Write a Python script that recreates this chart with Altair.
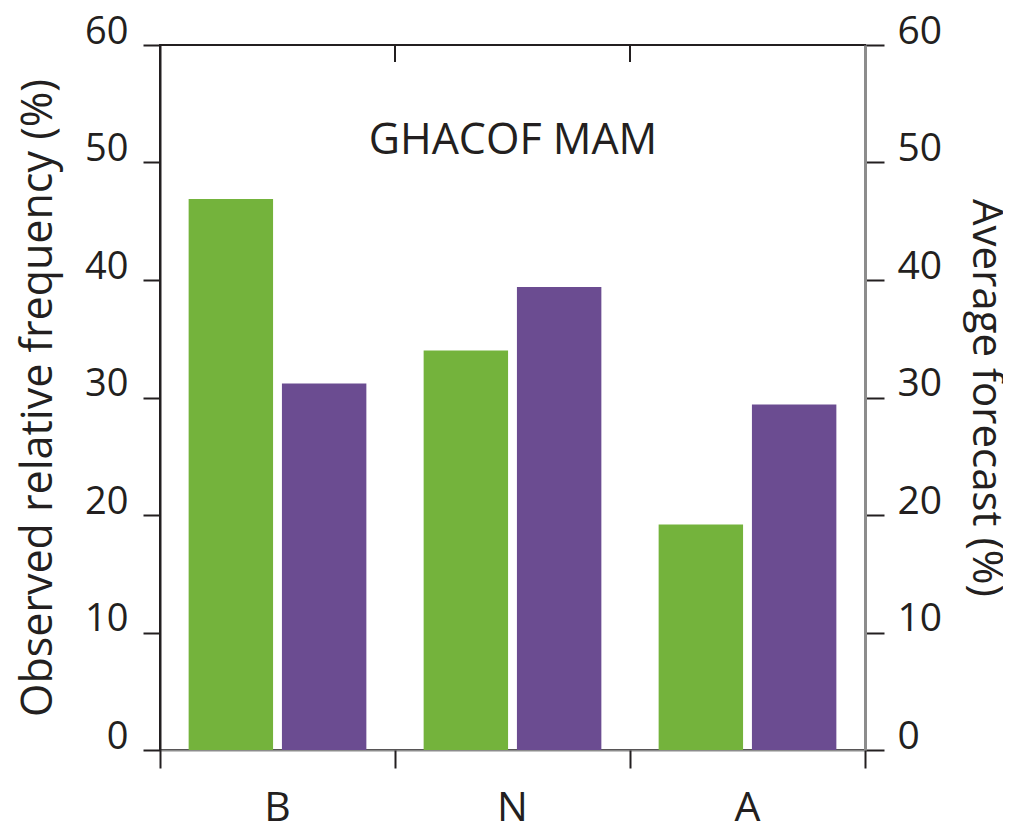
import altair as alt
import pandas as pd

categories = ["B", "N", "A"]
observed = [46.9, 34.0, 19.2]
forecast = [31.2, 39.4, 29.4]
series = ["Observed", "Forecast"]
colors = ["#74b33c", "#6b4c91"]
y_ticks = [0, 10, 20, 30, 40, 50, 60]
boundaries = [0, 1, 2, 3]
top_ticks = [1, 2]
title_text = ["GHACOF MAM"]
left_title = "Observed relative frequency (%)"
right_title = "Average forecast (%)"

rows = []
for c, o, f in zip(categories, observed, forecast):
    rows.append({"cat": c, "series": series[0], "value": o})
    rows.append({"cat": c, "series": series[1], "value": f})
df = pd.DataFrame(rows)

FONT = "Open Sans"
TXT = "#231f20"
GRAY = "#8c8c8c"

yscale = alt.Scale(domain=[0, 60], nice=False)

bars = alt.Chart(df).mark_bar().encode(
    x=alt.X("cat:N", sort=categories,
            scale=alt.Scale(paddingInner=0, paddingOuter=0),
            axis=alt.Axis(title=None, ticks=False, domain=True, domainColor=GRAY,
                          domainWidth=2, labelAngle=0, labelFontSize=41,
                          labelPadding=38, labelColor=TXT, labelFont=FONT, grid=False)),
    xOffset=alt.XOffset("series:N", sort=series,
                        scale=alt.Scale(paddingInner=0.095, paddingOuter=0.307)),
    y=alt.Y("value:Q", scale=yscale,
            axis=alt.Axis(orient="left", values=y_ticks, tickSize=17, tickWidth=2,
                          tickColor=TXT, domainColor=TXT, domainWidth=2,
                          labelFontSize=38, labelPadding=15, labelFont=FONT,
                          labelColor=TXT, labelBaseline="alphabetic", labelFlush=False,
                          labelOffset=-2,
                          title=left_title, titleFontSize=43,
                          titleFont=FONT, titleFontWeight="normal", titleColor=TXT,
                          titlePadding=24, grid=False)),
    color=alt.Color("series:N", scale=alt.Scale(domain=series, range=colors), legend=None),
)

rules = alt.Chart(pd.DataFrame({"pos": top_ticks})).mark_rule(
    color=TXT, strokeWidth=2
).encode(
    x=alt.X("pos:Q", scale=alt.Scale(domain=[0, 3], nice=False),
            axis=alt.Axis(orient="bottom", values=boundaries, labels=False, domain=False,
                          tickSize=18, tickWidth=2, tickColor=TXT, title=None, grid=False)),
    y=alt.value(0),
    y2=alt.value(17),
)

title = alt.Chart(pd.DataFrame({"t": title_text})).mark_text(
    font=FONT, fontSize=43, color=TXT, align="center", baseline="middle"
).encode(
    x=alt.value(353),
    y=alt.value(96),
    text="t:N",
)

right = alt.Chart(df).mark_bar(opacity=0).encode(
    x=alt.X("cat:N", sort=categories, axis=None),
    y=alt.Y("value:Q", scale=yscale,
            axis=alt.Axis(orient="right", values=y_ticks, tickSize=19, tickWidth=2,
                          tickColor=TXT, domainColor=GRAY, domainWidth=3,
                          labelFontSize=39, labelPadding=13, labelFont=FONT,
                          labelColor=TXT, labelBaseline="alphabetic", labelFlush=False,
                          labelOffset=-2,
                          title=right_title, titleFontSize=42,
                          titleFont=FONT, titleFontWeight="normal", titleColor=TXT,
                          titleAngle=90, titlePadding=22, grid=False)),
)

chart = alt.layer(bars, rules, title, right).resolve_scale(
    x="independent", y="shared"
).resolve_axis(
    x="independent", y="independent"
).properties(
    width=705, height=705,
    autosize=alt.AutoSizeParams(type="none"),
    padding={"left": 152, "top": 37, "right": 138, "bottom": 80},
).configure_view(
    stroke=TXT, strokeWidth=2
)

chart.save("out.html", embed_options={"renderer": "svg", "actions": False})
